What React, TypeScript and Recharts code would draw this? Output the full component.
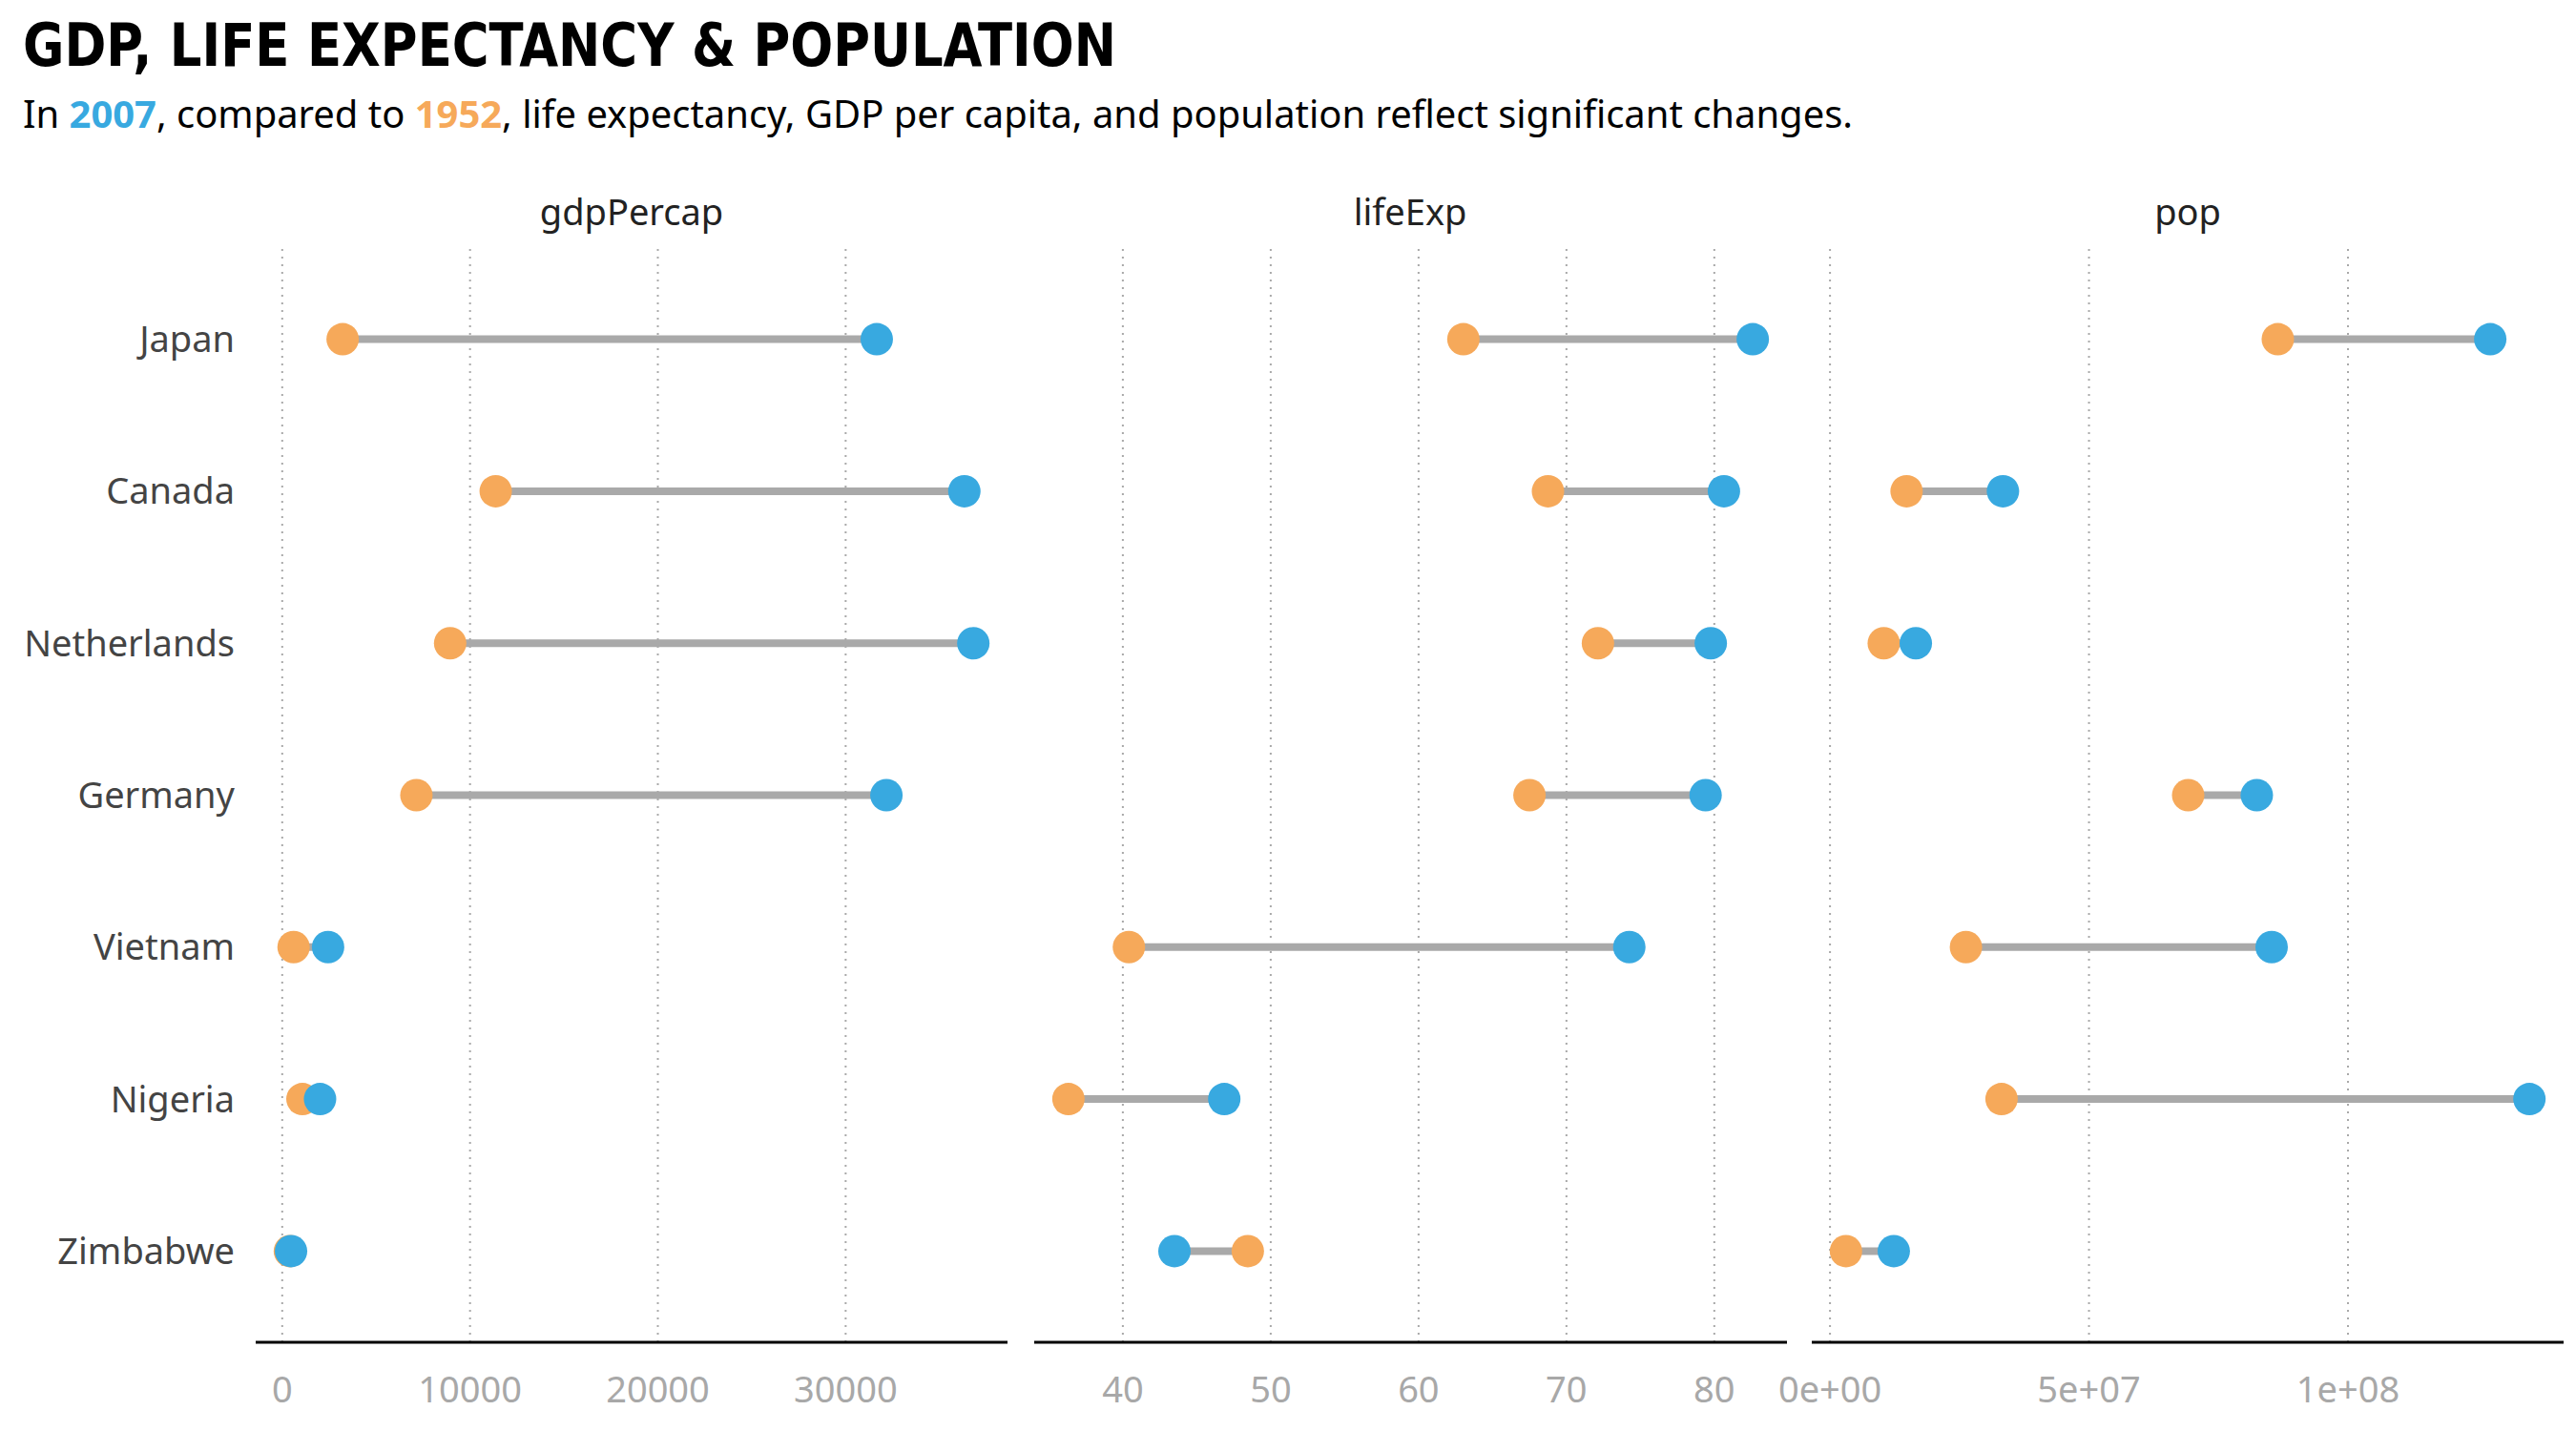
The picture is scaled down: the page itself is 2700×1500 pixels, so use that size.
import React from "react"
import { ReferenceLine, Scatter, ScatterChart, XAxis, YAxis } from "recharts"

const countries = ["Japan", "Canada", "Netherlands", "Germany", "Vietnam", "Nigeria", "Zimbabwe"]
const gdp1952 = [3216.96, 11367.16, 8941.57, 7144.11, 605.07, 1077.28, 406.88]
const gdp2007 = [31656.07, 36319.24, 36797.93, 32170.37, 2441.58, 2013.98, 469.71]
const life1952 = [63.03, 68.75, 72.13, 67.5, 40.41, 36.32, 48.45]
const life2007 = [82.6, 80.65, 79.76, 79.41, 74.25, 46.86, 43.49]
const pop1952 = [86459025, 14785584, 10381988, 69145952, 26246839, 33119096, 3080907]
const pop2007 = [127467972, 33390141, 16570613, 82400996, 85262356, 135031164, 12311143]

const gdpTicks = [0, 10000, 20000, 30000]
const lifeTicks = [40, 50, 60, 70, 80]
const popTicks = [0, 50000000, 100000000]
const popTickLabels = ["0e+00", "5e+07", "1e+08"]
const rows = [1, 2, 3, 4, 5, 6, 7]

const BLUE = "#38A9E0"
const ORANGE = "#F6A95A"
const GREY = "#A9A9A9"
const FONT = "'Noto Sans', sans-serif"

// ggplot style 5% padding on the data range
function expand(a: number[], b: number[]): [number, number] {
  const min = Math.min(...a, ...b)
  const max = Math.max(...a, ...b)
  const pad = (max - min) * 0.05
  return [min - pad, max + pad]
}

interface PanelProps {
  left: number
  plotWidth: number
  v1952: number[]
  v2007: number[]
  ticks: number[]
  fmt?: (v: number) => string
  showY?: boolean
}

function Panel({ left, plotWidth, v1952, v2007, ticks, fmt, showY }: PanelProps) {
  const yW = showY ? 268 : 0
  const mLeft = showY ? 0 : 100
  const chartLeft = left - yW - mLeft
  const width = plotWidth + yW + mLeft + 100
  const dots1952 = v1952.map((v, i) => ({ x: v, y: i + 1 }))
  const dots2007 = v2007.map((v, i) => ({ x: v, y: i + 1 }))

  return (
    <div style={{ position: "absolute", left: chartLeft, top: 0 }}>
      <ScatterChart width={width} height={1500} margin={{ top: 260, right: 100, bottom: 0, left: mLeft }}>
        <XAxis
          type="number"
          dataKey="x"
          domain={expand(v1952, v2007)}
          ticks={ticks}
          tickFormatter={fmt}
          height={93}
          axisLine={{ stroke: "#000", strokeWidth: 3 }}
          tickLine={false}
          tickSize={0}
          tickMargin={36}
          tick={{ fill: "#A8A8A8", fontSize: 38, fontFamily: FONT }}
        />
        <YAxis
          type="number"
          dataKey="y"
          domain={[0.4, 7.6]}
          reversed
          ticks={rows}
          tickFormatter={(v) => countries[v - 1]}
          hide={!showY}
          width={yW}
          axisLine={false}
          tickLine={false}
          tickSize={0}
          tickMargin={22}
          tick={{ fill: "#444", fontSize: 38, fontFamily: FONT }}
        />
        {ticks.map((t) => (
          <ReferenceLine key={t} x={t} stroke={GREY} strokeDasharray="2 6" strokeWidth={2} />
        ))}
        {countries.map((c, i) => (
          <Scatter
            key={c}
            data={[dots1952[i], dots2007[i]]}
            line={{ stroke: GREY, strokeWidth: 8 }}
            shape={() => <g />}
            isAnimationActive={false}
          />
        ))}
        <Scatter
          data={dots1952}
          shape={(p: any) => <circle cx={p.cx} cy={p.cy} r={17} fill={ORANGE} />}
          isAnimationActive={false}
        />
        <Scatter
          data={dots2007}
          shape={(p: any) => <circle cx={p.cx} cy={p.cy} r={17} fill={BLUE} />}
          isAnimationActive={false}
        />
      </ScatterChart>
    </div>
  )
}

export default function App() {
  return (
    <div style={{ position: "absolute", left: 0, top: 0, width: 2700, height: 1500, background: "#fff" }}>
      <Panel left={268} plotWidth={788} v1952={gdp1952} v2007={gdp2007} ticks={gdpTicks} showY />
      <Panel left={1084} plotWidth={789} v1952={life1952} v2007={life2007} ticks={lifeTicks} />
      <Panel
        left={1899}
        plotWidth={788}
        v1952={pop1952}
        v2007={pop2007}
        ticks={popTicks}
        fmt={(v) => popTickLabels[popTicks.indexOf(v)]}
      />
      <svg width={2700} height={260} style={{ position: "absolute", left: 0, top: 0 }}>
        <text
          x={24}
          y={69}
          fontFamily="'DejaVu Sans Condensed', 'DejaVu Sans', sans-serif"
          fontWeight={700}
          fontSize={62}
          textLength={1146}
          lengthAdjust="spacingAndGlyphs"
          fill="#000"
        >
          GDP, LIFE EXPECTANCY &amp; POPULATION
        </text>
        <text x={24} y={134} fontFamily={FONT} fontSize={40} textLength={1918} lengthAdjust="spacingAndGlyphs" fill="#000">
          In <tspan fill={BLUE} fontWeight={700}>2007</tspan>, compared to{" "}
          <tspan fill={ORANGE} fontWeight={700}>1952</tspan>, life expectancy, GDP per capita, and population reflect
          significant changes.
        </text>
        <text x={662} y={236} textAnchor="middle" fontFamily={FONT} fontSize={38} fill="#222">gdpPercap</text>
        <text x={1478} y={236} textAnchor="middle" fontFamily={FONT} fontSize={38} fill="#222">lifeExp</text>
        <text x={2293} y={236} textAnchor="middle" fontFamily={FONT} fontSize={38} fill="#222">pop</text>
      </svg>
    </div>
  )
}
